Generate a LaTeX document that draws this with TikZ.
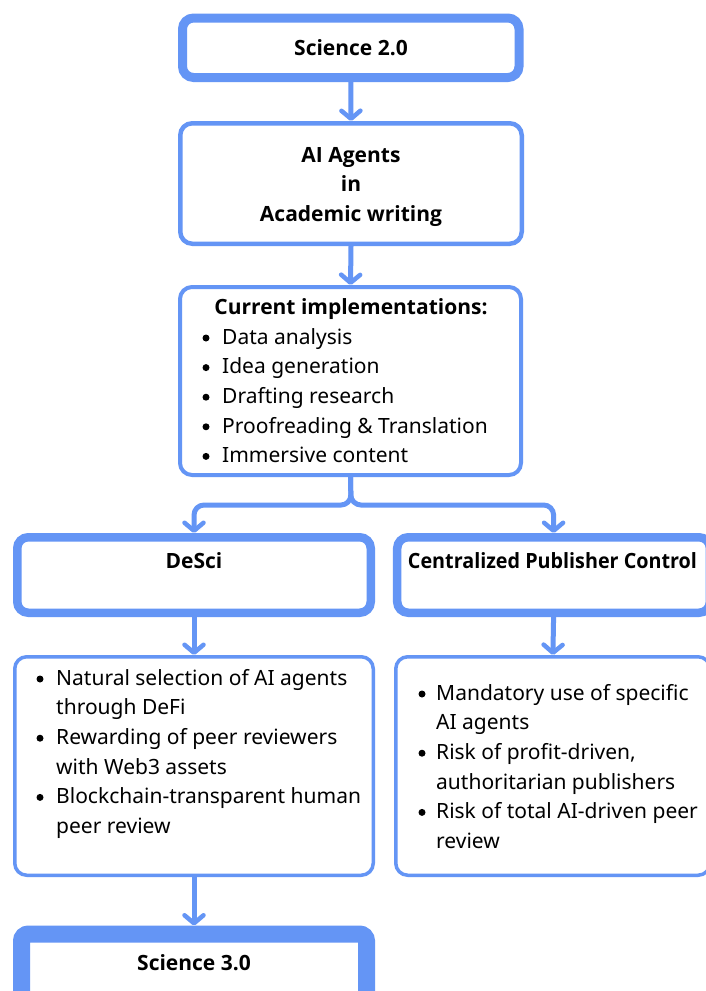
\documentclass[tikz,border=0pt]{standalone}
\usepackage{fontspec}
\setmainfont{Noto Sans}
\newfontfamily\ttlfont{Open Sans}
\usetikzlibrary{arrows.meta}
\definecolor{flowblue}{RGB}{100,149,245}
\begin{document}
\begin{tikzpicture}[x=1pt,y=-1pt,
  boxthin/.style={draw=flowblue, fill=white, rounded corners=12pt, line width=4pt, inner sep=0pt},
  boxthick/.style={draw=flowblue, fill=white, rounded corners=11pt, line width=8.5pt, inner sep=0pt},
  ttl/.style={font=\ttlfont\fontsize{21}{29.6}\selectfont\bfseries, anchor=base, inner sep=0pt},
  lst/.style={font=\fontsize{21}{29.6}\selectfont, anchor=north west, inner sep=0pt},
  dot/.style={fill=black},
  conn/.style={draw=flowblue, line width=5pt, -{Straight Barb[length=8pt,width=19pt,line width=4.5pt,round]}},
]
\useasboundingbox (0,0) rectangle (706,991);
\clip (0,0) rectangle (706,991);
\fill[white] (0,0) rectangle (706,991);

% boxes
\node[boxthick, line width=9pt, minimum width=336.5pt, minimum height=59.5pt] (s2) at (350.75,47.75) {};
\node[boxthin, line width=4.5pt, minimum width=341.5pt, minimum height=120.5pt] (ai) at (351,183.5) {};
\node[boxthin, minimum width=341pt, minimum height=188pt] (cur) at (350.5,381) {};
\node[boxthick, minimum width=353.5pt, minimum height=75.5pt] (ds) at (194,575) {};
\node[boxthick, minimum width=312.75pt, minimum height=75.5pt] (cpc) at (553.6,575) {};
\node[boxthin, line width=3.5pt, minimum width=358.5pt, minimum height=218.5pt] (dl) at (194,766) {};
\node[boxthin, line width=3.5pt, minimum width=314.25pt, minimum height=218.5pt] (cl) at (552.9,766) {};
\node[boxthick, rounded corners=7pt, line width=17pt, minimum width=345pt, minimum height=76pt] (s3) at (194,972) {};

% titles
\node[ttl] (s2t) at (351,55) {Science 2.0};
\node[ttl, anchor=north] (ait) at (351,162-20.72) {\begin{tabular}{@{}c@{}}AI Agents\\in\\Academic writing\end{tabular}};
\node[ttl] (curt) at (351,314) {Current implementations:};
\node[lst] (curl) at (222,344-20.72) {\begin{tabular}{@{}l@{}}
Data analysis\\
Idea generation\\
Drafting research\\
Proofreading \& Translation\\
Immersive content
\end{tabular}};
\node[ttl] (dst) at (194,568) {DeSci};
\node[ttl] (cpct) at (552.5,568) {\resizebox{289pt}{\height}{Centralized Publisher Control}};
\node[lst] (dll) at (56,685-20.72) {\begin{tabular}{@{}l@{}}
Natural selection of AI agents\\
through DeFi\\
Rewarding of peer reviewers\\
with Web3 assets\\
Blockchain-transparent human\\
peer review
\end{tabular}};
\node[lst] (cll) at (436,700-20.72) {\begin{tabular}{@{}l@{}}
Mandatory use of specific\\
AI agents\\
Risk of profit-driven,\\
authoritarian publishers\\
Risk of total AI-driven peer\\
review
\end{tabular}};
\node[ttl] (s3t) at (194,970) {Science 3.0};

% bullets
\foreach \yy in {338,367.6,397.2,426.8,456.4} \fill[dot] (206,\yy) circle (3.5pt);
\foreach \yy in {679,738.2,797.4} \fill[dot] (40,\yy) circle (3.5pt);
\foreach \yy in {694,753.2,812.4} \fill[dot] (422,\yy) circle (3.5pt);

% connectors
\coordinate (split) at (351,505);
\draw[conn] (s2.south) -- (ai.north);
\draw[conn] (ai.south) -- (cur.north);
\draw[conn, rounded corners=10pt] (cur.south) -- (split) -| (ds.north);
\draw[conn, rounded corners=10pt] (cur.south) -- (split) -| (cpc.north);
\draw[conn] (ds.south) -- (dl.north);
\draw[conn] (cpc.south) -- (cl.north);
\draw[conn] (dl.south) -- (s3.north);
\end{tikzpicture}
\end{document}
